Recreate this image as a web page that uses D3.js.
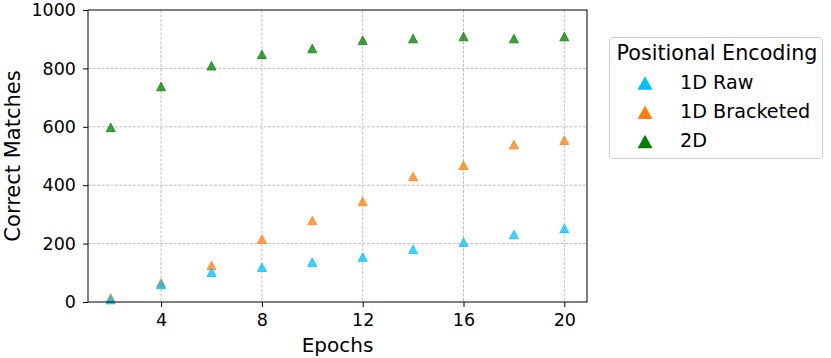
<!DOCTYPE html>
<html>
<script src='https://d3js.org/d3.v7.min.js'></script>
<style>
body {margin: 0; background: white;}
text {font-family: 'DejaVu Sans', sans-serif; fill: black;}
</style>
<body>
<script>
// values
var epochs = [2, 4, 6, 8, 10, 12, 14, 16, 18, 20];
var raw = [8, 60, 102, 119, 136, 154, 180, 205, 231, 252];
var bracketed = [14, 65, 125, 215, 279, 344, 430, 468, 539, 554];
var twoD = [598, 738, 809, 848, 868, 896, 902, 909, 902, 909];
var seriesNames = ['1D Raw', '1D Bracketed', '2D'];
var seriesColors = ['#00bfff', '#ff7f0e', '#008000'];
var xTicks = [4, 8, 12, 16, 20];
var yTicks = [0, 200, 400, 600, 800, 1000];

var series = [
  {name: seriesNames[0], color: seriesColors[0], values: raw},
  {name: seriesNames[1], color: seriesColors[1], values: bracketed},
  {name: seriesNames[2], color: seriesColors[2], values: twoD}
];

var W = 831, H = 358;
var pL = 88, pR = 587, pT = 10, pB = 302;

var x = d3.scaleLinear().domain([1.1, 20.9]).range([pL, pR]);
var y = d3.scaleLinear().domain([0, 1000]).range([pB, pT]);

var svg = d3.select('body').append('svg')
  .attr('width', W)
  .attr('height', H);

// grid
svg.append('g')
  .selectAll('line')
  .data(xTicks)
  .enter().append('line')
  .attr('x1', d => x(d)).attr('x2', d => x(d))
  .attr('y1', pT).attr('y2', pB)
  .attr('stroke', '#b0b0b0').attr('stroke-width', 0.8)
  .attr('stroke-dasharray', '3,1.5');

svg.append('g')
  .selectAll('line')
  .data(yTicks.slice(1, -1))
  .enter().append('line')
  .attr('x1', pL).attr('x2', pR)
  .attr('y1', d => y(d)).attr('y2', d => y(d))
  .attr('stroke', '#b0b0b0').attr('stroke-width', 0.8)
  .attr('stroke-dasharray', '3,1.5');

var tri = function(w, h) {
  return 'M0,' + (-h / 2) + 'L' + (w / 2) + ',' + (h / 2) + 'L' + (-w / 2) + ',' + (h / 2) + 'Z';
};

// markers: 2D first, then bracketed, then raw on top
[series[2], series[1], series[0]].forEach(function(s) {
  svg.append('g')
    .selectAll('path')
    .data(s.values)
    .enter().append('path')
    .attr('d', tri(9, 8.5))
    .attr('transform', (d, i) => 'translate(' + x(epochs[i]) + ',' + y(d) + ')')
    .attr('fill', s.color)
    .attr('fill-opacity', 0.75)
    .attr('stroke', s.color)
    .attr('stroke-opacity', 0.75)
    .attr('stroke-width', 1);
});

// axes
var xAxis = svg.append('g')
  .attr('transform', 'translate(0,' + pB + ')')
  .call(d3.axisBottom(x).tickValues(xTicks).tickSize(5).tickPadding(7).tickSizeOuter(0));
var yAxis = svg.append('g')
  .attr('transform', 'translate(' + pL + ',0)')
  .call(d3.axisLeft(y).tickValues(yTicks).tickFormat(d3.format('d')).tickSize(5).tickPadding(7).tickSizeOuter(0));
[xAxis, yAxis].forEach(function(a) {
  a.select('.domain').remove();
  a.selectAll('line').attr('stroke', 'black').attr('stroke-width', 1);
  a.selectAll('text').style('font-size', '17.5px').attr('fill', 'black');
});

// frame
svg.append('rect')
  .attr('x', pL).attr('y', pT)
  .attr('width', pR - pL).attr('height', pB - pT)
  .attr('fill', 'none').attr('stroke', 'black').attr('stroke-width', 1);

// axis labels
svg.append('text')
  .attr('x', (pL + pR) / 2)
  .attr('y', 352)
  .style('text-anchor', 'middle')
  .style('font-size', '20px')
  .text('Epochs');

svg.append('text')
  .attr('transform', 'translate(19.5,' + (pT + pB) / 2 + ')rotate(-90)')
  .style('text-anchor', 'middle')
  .style('font-size', '21px')
  .text('Correct Matches');

// legend
var lg = svg.append('g');
lg.append('rect')
  .attr('x', 609.5).attr('y', 37.5)
  .attr('width', 213).attr('height', 121)
  .attr('rx', 3)
  .attr('fill', 'white').attr('fill-opacity', 0.8)
  .attr('stroke', '#cccccc').attr('stroke-width', 1);
lg.append('text')
  .attr('x', 717).attr('y', 60)
  .style('text-anchor', 'middle')
  .style('font-size', '20.7px')
  .text('Positional Encoding');
series.forEach(function(s, i) {
  var yy = 88.5 + i * 29.2;
  lg.append('path')
    .attr('d', tri(15, 13.5))
    .attr('transform', 'translate(645,' + (yy - 5.5) + ')')
    .attr('fill', s.color);
  lg.append('text')
    .attr('x', 680).attr('y', yy)
    .style('font-size', '19.2px')
    .text(s.name);
});
</script>
</body>
</html>
